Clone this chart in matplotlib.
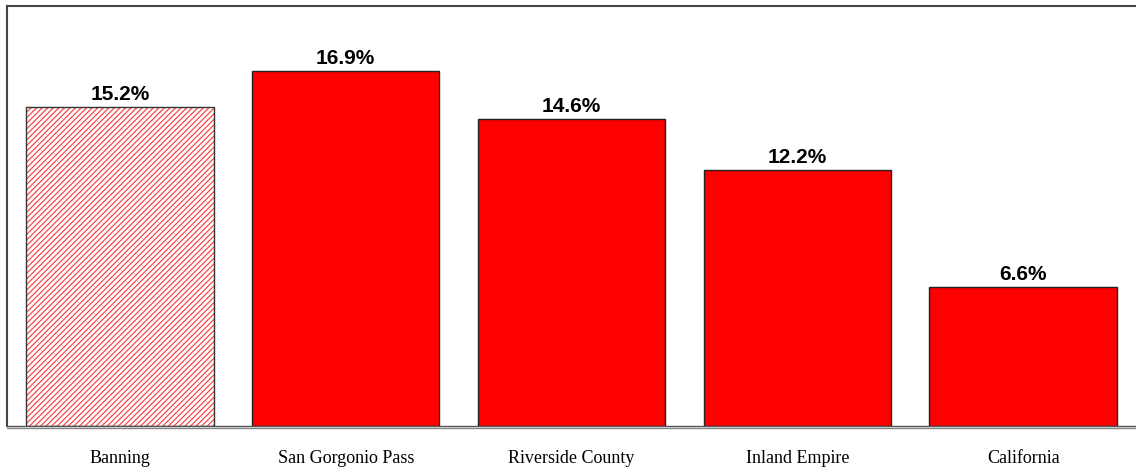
import matplotlib
matplotlib.use("Agg")
import matplotlib.pyplot as plt

# === Data ===
regions = ["Banning", "San Gorgonio Pass", "Riverside County", "Inland Empire", "California"]
values = [15.2, 16.9, 14.6, 12.2, 6.6]
labels = ["15.2%", "16.9%", "14.6%", "12.2%", "6.6%"]

plt.rcParams['hatch.linewidth'] = 0.8

fig = plt.figure(figsize=(11.36, 4.72), dpi=100)
ax = fig.add_axes([7 / 1136, 1 - 426 / 472, 1 - 7 / 1136, 420 / 472])

x = list(range(len(regions)))
width = 0.83

# Banning is hatched, the rest solid red
ax.bar(x[0], values[0], width=width, color="white", edgecolor="#ff3333",
       hatch="//////", linewidth=0, zorder=2)
ax.bar(x[0], values[0], width=width, fill=False, edgecolor="#333333",
       linewidth=1.0, zorder=3)
ax.bar(x[1:], values[1:], width=width, color="#ff0000", edgecolor="#222222",
       linewidth=1.0, zorder=2)

for xi, v, lab in zip(x, values, labels):
    ax.text(xi, v + 0.15, lab, ha="center", va="bottom",
            fontsize=15, fontweight="bold", family="Liberation Sans")

ax.set_xlim(-0.5, 4.5)
ax.set_ylim(0, 20)

ax.set_xticks(x)
ax.set_xticklabels(regions, family="Liberation Serif", fontsize=13)
ax.tick_params(axis="x", length=0, pad=17)
ax.set_yticks([])

for side in ["top", "left"]:
    ax.spines[side].set_color("#444444")
    ax.spines[side].set_linewidth(1.5)
ax.spines["right"].set_visible(False)
ax.spines["bottom"].set_color("#555555")
ax.spines["bottom"].set_linewidth(1.0)
ax.axhline(-0.1, color="#888888", linewidth=1.0, clip_on=False, zorder=1)

fig.savefig("out.png", dpi=100)
plt.close(fig)
